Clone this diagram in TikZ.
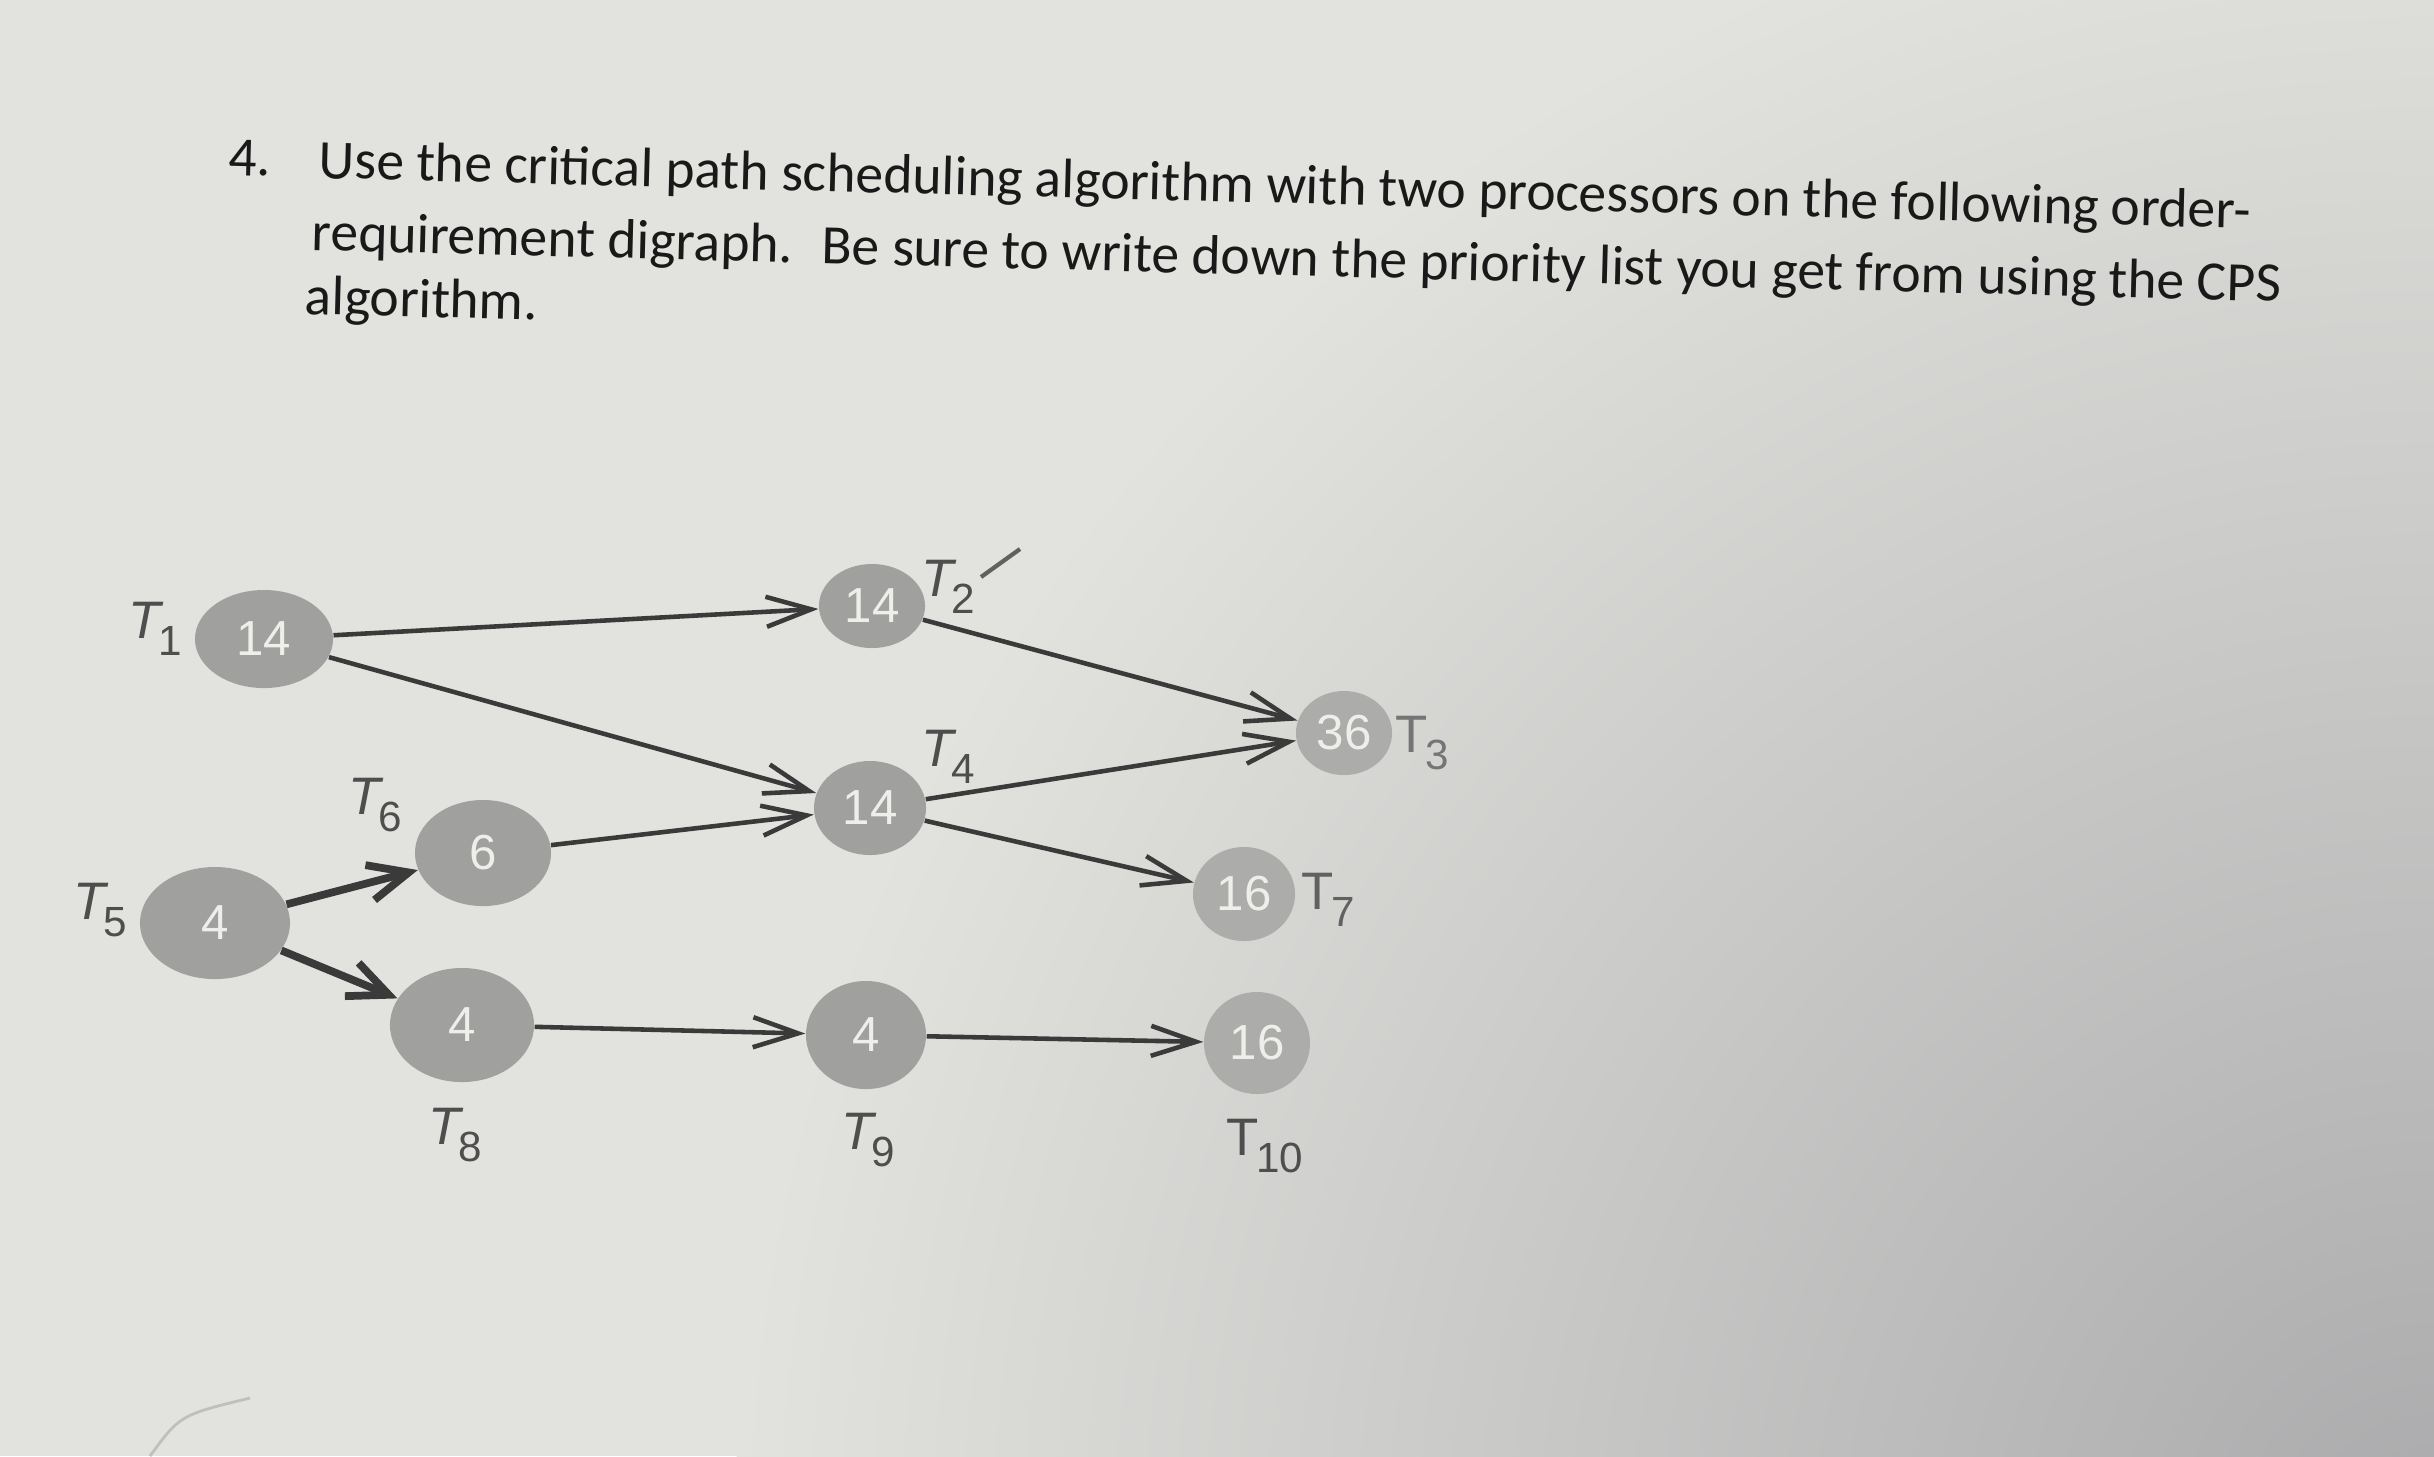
\documentclass[tikz,border=0pt]{standalone}
\usepackage{fontspec}
\setmainfont{Carlito}
\setsansfont{Liberation Sans}
\usetikzlibrary{arrows.meta, shapes.geometric, positioning}

\definecolor{paper}{RGB}{226,226,222}
\definecolor{papershade}{RGB}{170,170,172}
\definecolor{ink}{RGB}{58,58,58}
\definecolor{blob}{RGB}{160,160,158}
\definecolor{blobpale}{RGB}{172,172,170}

\newcommand{\tsub}[1]{\textit{T}\kern-0.1em\raisebox{-0.6ex}{\fontsize{12}{12}\selectfont #1}}
\newcommand{\tsubup}[1]{T\kern-0.05em\raisebox{-0.6ex}{\fontsize{12}{12}\selectfont #1}}

\begin{document}
\begin{tikzpicture}[x=0.01cm, y=-0.01cm,
  task/.style = {ellipse, fill=blob, inner sep=0pt, text=paper!60!white, font=\sffamily\fontsize{14}{14}\selectfont},
  pale/.style = {fill=blobpale},
  tlabel/.style = {text=ink!90, font=\sffamily\fontsize{15}{15}\selectfont, inner sep=0pt},
  qline/.style = {anchor=base west, rotate=-1.5, inner sep=0pt, text=black!90, font=\fontsize{15.8}{18}\selectfont},
  edge/.style = {ink, line width=1.3pt, -{Straight Barb[length=4.5mm, width=3mm]}},
  heavy/.style = {ink, line width=2.2pt, -{Straight Barb[length=4mm, width=3.6mm]}},
  ]
% paper, darker towards the lower right
\fill[paper] (0,0) rectangle (2434,1456);
\begin{scope}
  \clip (0,0) rectangle (2434,1456);
  \shade[inner color=papershade, outer color=paper] (2434,1550) circle (1700);
\end{scope}
\useasboundingbox (0,0) rectangle (2434,1456);

% question
\node[qline] (qnum) at (228,175) {4.};
\node[qline] (qa) at (318,178) {Use the critical path scheduling algorithm with two processors on the following order-};
\node[qline] (qb) at (311,250) {requirement digraph.~ Be sure to write down the priority list you get from using the CPS};
\node[qline] (qc) at (304,314) {algorithm.};

% tasks
\node[task, minimum width=1.38cm, minimum height=0.98cm] (t1) at (264,639) {14};
\node[task, minimum width=1.06cm, minimum height=0.84cm] (t2) at (872,606) {14};
\node[task, pale, minimum width=0.96cm, minimum height=0.84cm] (t3) at (1344,733) {36};
\node[task, minimum width=1.12cm, minimum height=0.94cm] (t4) at (870,808) {14};
\node[task, minimum width=1.50cm, minimum height=1.12cm] (t5) at (215,923) {4};
\node[task, minimum width=1.36cm, minimum height=1.06cm] (t6) at (483,853) {6};
\node[task, pale, minimum width=1.02cm, minimum height=0.94cm] (t7) at (1244,894) {16};
\node[task, minimum width=1.44cm, minimum height=1.14cm] (t8) at (462,1025) {4};
\node[task, minimum width=1.20cm, minimum height=1.08cm] (t9) at (866,1035) {4};
\node[task, pale, minimum width=1.06cm, minimum height=1.02cm] (t10) at (1257,1043) {16};

% names
\node[tlabel] (n1) at (155,629) {\tsub{1}};
\node[tlabel] (n2) at (948,587) {\tsub{2}};
\node[tlabel, text=ink!70] (n3) at (1422,743) {\tsubup{3}};
\node[tlabel] (n4) at (948,757) {\tsub{4}};
\node[tlabel] (n5) at (100,910) {\tsub{5}};
\node[tlabel] (n6) at (375,805) {\tsub{6}};
\node[tlabel, text=ink!80] (n7) at (1328,900) {\tsubup{7}};
\node[tlabel] (n8) at (455,1135) {\tsub{8}};
\node[tlabel] (n9) at (868,1140) {\tsub{9}};
\node[tlabel] (n10) at (1265,1146) {\tsubup{10}};

% order requirements
\draw[edge] (t1) -- (t2);
\draw[edge] (t1) -- (t4);
\draw[edge] (t6) -- (t4);
\draw[heavy] (t5) -- (t6);
\draw[heavy] (t5) -- (t8);
\draw[edge] (t2) -- (t3);
\draw[edge] (t4) -- (t3);
\draw[edge] (t4) -- (t7);
\draw[edge] (t8) -- (t9);
\draw[edge] (t9) -- (t10);

% pencil marks
\draw[ink!80, line width=1.2pt] (981,577) -- (1020,549);
\draw[black!25, line width=0.8pt] (150,1456) .. controls (180,1415) .. (250,1398);
\end{tikzpicture}
\end{document}
